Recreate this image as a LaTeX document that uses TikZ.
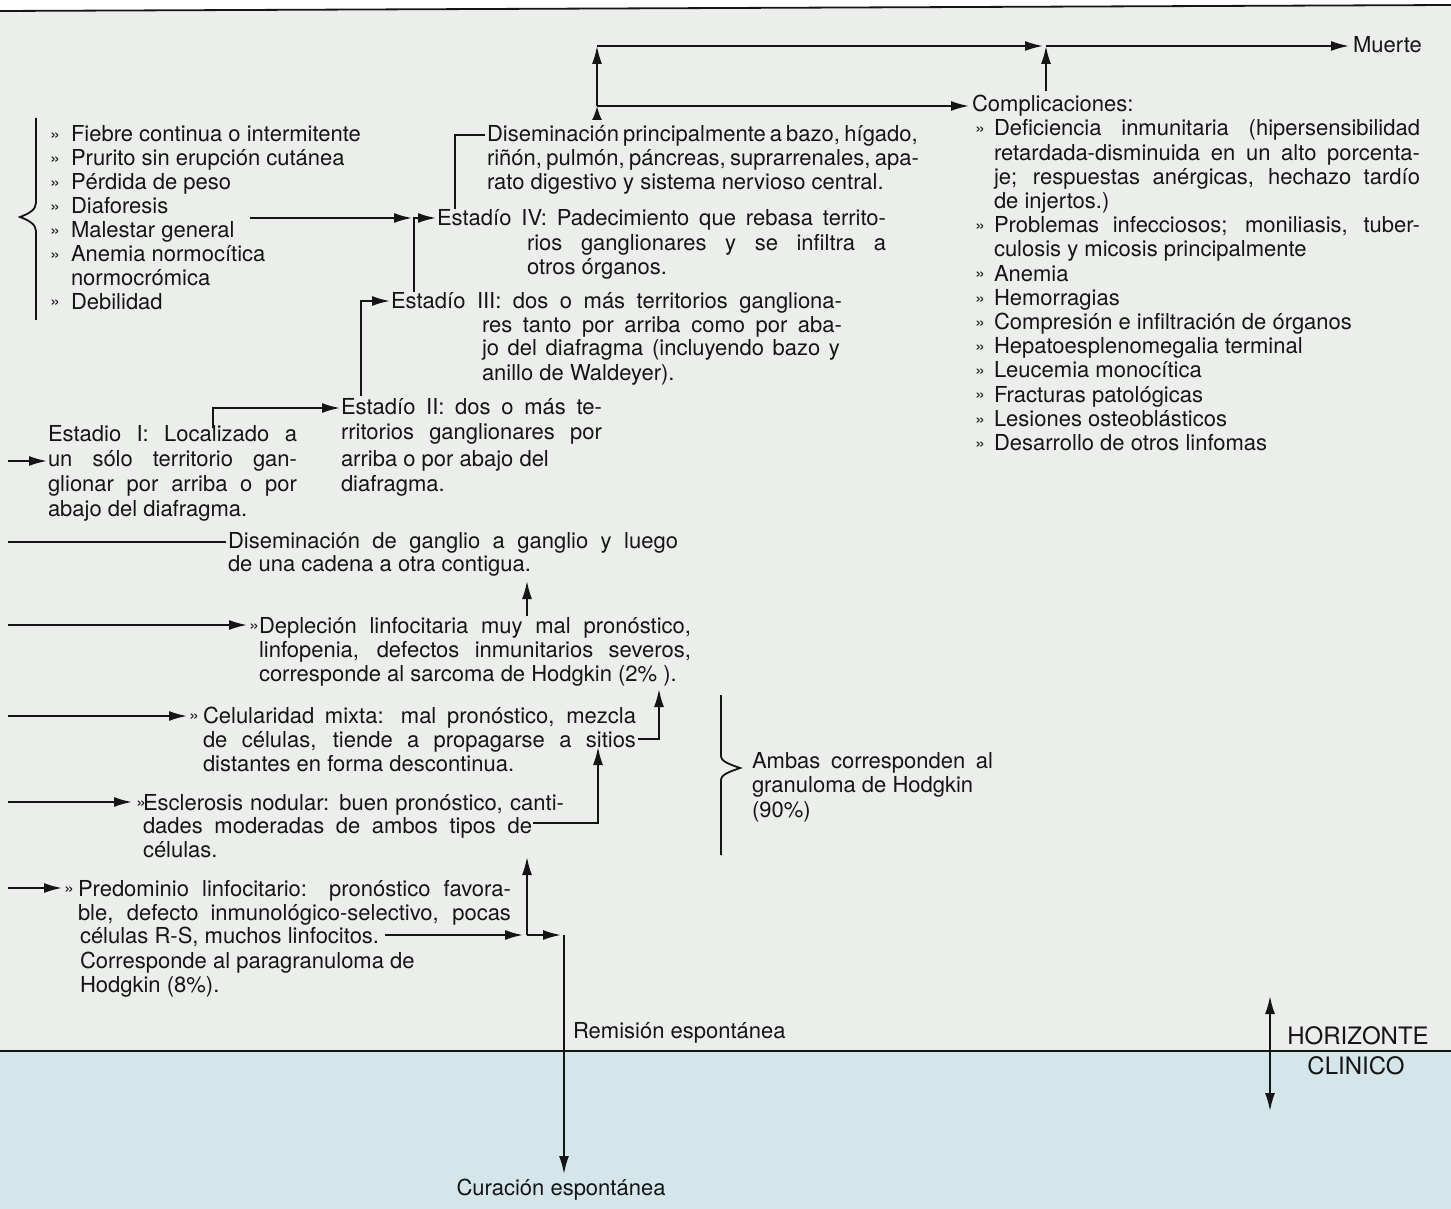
\documentclass[tikz,border=0pt]{standalone}
\usepackage{fontspec}
\setmainfont{TeX Gyre Heros}
\usetikzlibrary{arrows.meta}
\definecolor{bgup}{HTML}{ECEEEC}
\definecolor{bglow}{HTML}{D4E6EA}
\definecolor{ink}{HTML}{151515}
\newcommand\bulx[1]{\hbox to #1pt{\raisebox{0.6pt}{\fontsize{9}{9}\selectfont »}\hss}}
\newcommand\blk[2]{\vtop{\baselineskip=#1pt\relax #2}}
\newcommand\jl[2]{\hbox to #1pt{#2}}
\newcommand\nl[1]{\hbox{#1}}
\begin{document}
\begin{tikzpicture}[x=0.5pt,y=-0.5pt,line width=0.9pt,draw=ink,
  arr/.style={-{Latex[length=9pt,width=5pt]}},
  sarr/.style={-{Latex[length=7pt,width=5pt]}},
  dblarr/.style={{Latex[length=9pt,width=5pt]}-{Latex[length=9pt,width=5pt]}},
  txt/.style={anchor=base west,inner sep=0pt,outer sep=0pt,text=ink,font=\fontsize{11}{12}\selectfont},
  ctxt/.style={anchor=base,inner sep=0pt,outer sep=0pt,text=ink,font=\fontsize{11}{12}\selectfont},
  htxt/.style={anchor=base,inner sep=0pt,outer sep=0pt,text=ink,font=\fontsize{12}{12}\selectfont}]
\useasboundingbox (0,0) rectangle (1451,1209);
% background
\fill[white] (0,0) rectangle (1451,1209);
\fill[bgup] (0,11) -- (1451,5) -- (1451,1051) -- (0,1051) -- cycle;
\fill[bglow] (0,1051) rectangle (1451,1209);
\draw[line width=0.9pt] (0,11) -- (1451,5);
\draw[line width=0.9pt] (0,1051) -- (1451,1051);

% ---------- text blocks ----------
\node[txt] (sym) at (50,142) {\blk{11.93}{%
\nl{\bulx{10.5}Fiebre continua o intermitente}%
\nl{\bulx{10.5}Prurito sin erupción cutánea}%
\nl{\bulx{10.5}Pérdida de peso}%
\nl{\bulx{10.5}Diaforesis}%
\nl{\bulx{10.5}Malestar general}%
\nl{\bulx{10.5}Anemia normocítica}%
\nl{\hskip10.5pt normocrómica}%
\nl{\bulx{10.5}Debilidad}}};

\node[txt] (dis4) at (487,142) {\blk{12}{%
\jl{214}{Diseminación principalmente a bazo, hígado,}%
\jl{214}{riñón, pulmón, páncreas, suprarrenales, apa-}%
\nl{rato digestivo y sistema nervioso central.}}};

\node[txt] (est4) at (437,226) {\blk{12.25}{%
\jl{224.5}{Estadío IV: Padecimiento que rebasa territo-}%
\nl{\hskip45pt\jl{179.5}{rios ganglionares y se infiltra a}}%
\nl{\hskip45pt otros órganos.}}};

\node[txt] (est3) at (391,308) {\blk{12}{%
\jl{225.5}{Estadío III: dos o más territorios gangliona-}%
\nl{\hskip45.5pt\jl{180}{res tanto por arriba como por aba-}}%
\nl{\hskip45.5pt\jl{179}{jo del diafragma (incluyendo bazo y}}%
\nl{\hskip45.5pt anillo de Waldeyer).}}};

\node[txt] (est2) at (341,414) {\blk{13}{%
\jl{130.5}{Estadío II: dos o más te-}%
\jl{130.5}{rritorios ganglionares por}%
\nl{arriba o por abajo del}%
\nl{diafragma.}}};

\node[txt] (est1) at (48,441) {\blk{12.5}{%
\jl{124.5}{Estadio I: Localizado a}%
\jl{124.5}{un sólo territorio gan-}%
\jl{124.5}{glionar por arriba o por}%
\nl{abajo del diafragma.}}};

\node[txt] (disg) at (228,548) {\blk{11.5}{%
\jl{225}{Diseminación de ganglio a ganglio y luego}%
\nl{de una cadena a otra contigua.}}};

\node[txt] (depl) at (249,633) {\blk{12}{%
\nl{\bulx{5}\jl{216}{Depleción linfocitaria muy mal pronóstico,}}%
\nl{\hskip5pt\jl{216}{linfopenia, defectos inmunitarios severos,}}%
\nl{\hskip5pt corresponde al sarcoma de Hodgkin (2\% ).}}};

\node[txt] (celu) at (189,723) {\blk{12}{%
\nl{\bulx{7}\jl{216.5}{Celularidad mixta: mal pronóstico, mezcla}}%
\nl{\hskip7pt\jl{216.5}{de células, tiende a propagarse a sitios}}%
\nl{\hskip7pt distantes en forma descontinua.}}};

\node[txt] (escl) at (136,810) {\blk{11.75}{%
\nl{\bulx{3.5}\jl{210.5}{Esclerosis nodular: buen pronóstico, canti-}}%
\nl{\hskip3.5pt\jl{194.5}{dades moderadas de ambos tipos de}}%
\nl{\hskip3.5pt células.}}};

\node[txt] (pred) at (64,896) {\blk{12}{%
\nl{\bulx{7}\jl{216.5}{Predominio linfocitario: pronóstico favora-}}%
\nl{\hskip7pt\jl{216.5}{ble, defecto inmunológico-selectivo, pocas}}}};
\node[txt] (predc) at (80,943) {células R-S, muchos linfocitos.};
\node[txt] (pred3) at (80,968) {\blk{12}{%
\nl{Corresponde al paragranuloma de}%
\nl{Hodgkin (8\%).}}};

\node[txt] (amb) at (752,768) {\blk{12.25}{%
\jl{120.5}{Ambas corresponden al}%
\nl{granuloma de Hodgkin}%
\nl{(90\%)}}};

\node[txt] (comp) at (972,112) {Complicaciones:};
\node[txt] (compl) at (975,136) {\blk{12.1}{%
\nl{\bulx{9.5}\jl{213}{Deficiencia inmunitaria (hipersensibilidad}}%
\nl{\hskip9.5pt\jl{213}{retardada-disminuida en un alto porcenta-}}%
\nl{\hskip9.5pt\jl{213}{je; respuestas anérgicas, hechazo tardío}}%
\nl{\hskip9.5pt de injertos.)}%
\nl{\bulx{9.5}\jl{213}{Problemas infecciosos; moniliasis, tuber-}}%
\nl{\hskip9.5pt culosis y micosis principalmente}%
\nl{\bulx{9.5}Anemia}%
\nl{\bulx{9.5}Hemorragias}%
\nl{\bulx{9.5}Compresión e infiltración de órganos}%
\nl{\bulx{9.5}Hepatoesplenomegalia terminal}%
\nl{\bulx{9.5}Leucemia monocítica}%
\nl{\bulx{9.5}Fracturas patológicas}%
\nl{\bulx{9.5}Lesiones osteoblásticos}%
\nl{\bulx{9.5}Desarrollo de otros linfomas}}};

\node[txt] (muerte) at (1353,53) {Muerte};
\node[txt] (rem) at (573,1038) {Remisión espontánea};
\node[ctxt] (cur) at (561,1195) {Curación espontánea};
\node[htxt] (hor1) at (1358,1044) {HORIZONTE};
\node[htxt] (hor2) at (1356,1074) {CLINICO};

% ---------- braces ----------
\draw (36,118) -- (36,203) .. controls (36,210) and (28,214) .. (20,217)
      .. controls (28,220) and (36,224) .. (36,231) -- (36,320);
\draw (721,695) -- (721,756) .. controls (721,762) and (732,765) .. (740,768)
      .. controls (732,771) and (721,774) .. (721,780) -- (721,855);

% ---------- coordinates ----------
\coordinate (mA) at (250,218);
\coordinate (mB) at (412,218);
\coordinate (k3) at (414,292);
\coordinate (k4) at (414,218);
\coordinate (e4) at (436,218);
\coordinate (k2) at (361,396);
\coordinate (k2t) at (361,301);
\coordinate (e3) at (390,301);
\coordinate (k1) at (213,428);
\coordinate (k1t) at (213,408);
\coordinate (e2) at (340,408);
\coordinate (i1a) at (8,461);
\coordinate (i1b) at (47,461);
\coordinate (k4u) at (455,209);
\coordinate (k4t) at (455,135);
\coordinate (d4) at (485,135);
\coordinate (dA) at (597,120);
\coordinate (dB) at (597,106);
\coordinate (dC) at (597,46);
\coordinate (cA) at (969,106);
\coordinate (mu1) at (1043,46);
\coordinate (mu2) at (1046,46);
\coordinate (mu3) at (1349,46);
\coordinate (cB) at (1046,91);
\coordinate (gA) at (8,542);
\coordinate (gB) at (226,542);
\coordinate (ipA) at (8,625);
\coordinate (ipB) at (247,625);
\coordinate (pu1) at (527,616);
\coordinate (pu2) at (527,581);
\coordinate (icA) at (8,716);
\coordinate (icB) at (187,716);
\coordinate (co1) at (638,739);
\coordinate (co2) at (659,739);
\coordinate (co3) at (659,689);
\coordinate (ieA) at (8,802);
\coordinate (ieB) at (132,802);
\coordinate (eo1) at (533,823);
\coordinate (eo2) at (598,823);
\coordinate (eo3) at (598,747);
\coordinate (irA) at (8,888);
\coordinate (irB) at (62,888);
\coordinate (pA) at (523,935);
\coordinate (pJ) at (527,935);
\coordinate (pU) at (527,857);
\coordinate (pB) at (561,935);
\coordinate (pK) at (564,935);
\coordinate (pC) at (564,1174);
\coordinate (h1) at (1270,996);
\coordinate (h2) at (1270,1111);

% ---------- connectors ----------
\draw[arr] (mA) -- (mB);
\draw[arr] (k3) -- (k4) -- (e4);
\draw[arr] (k2) -- (k2t) -- (e3);
\draw[arr] (k1) -- (k1t) -- (e2);
\draw[arr] (i1a) -- (i1b);
\draw (k4u) -- (k4t) -- (d4);
\draw[sarr] (dA) -- (dB);
\draw[arr] (dB) -- (dC);
\draw[arr] (dB) -- (cA);
\draw[arr] (dC) -- (mu1);
\draw[arr] (mu2) -- (mu3);
\draw[arr] (cB) -- (mu2);
\draw (gA) -- (gB);
\draw[arr] (ipA) -- (ipB);
\draw[arr] (pu1) -- (pu2);
\draw[arr] (icA) -- (icB);
\draw[arr] (co1) -- (co2) -- (co3);
\draw[arr] (ieA) -- (ieB);
\draw[arr] (eo1) -- (eo2) -- (eo3);
\draw[arr] (irA) -- (irB);
\draw[arr] ([xshift=3pt]predc.east |- pA) -- (pA);
\draw[arr] (pJ) -- (pU);
\draw[arr] (pJ) -- (pB);
\draw[arr] (pK) -- (pC);
\draw[dblarr] (h1) -- (h2);
\end{tikzpicture}
\end{document}
